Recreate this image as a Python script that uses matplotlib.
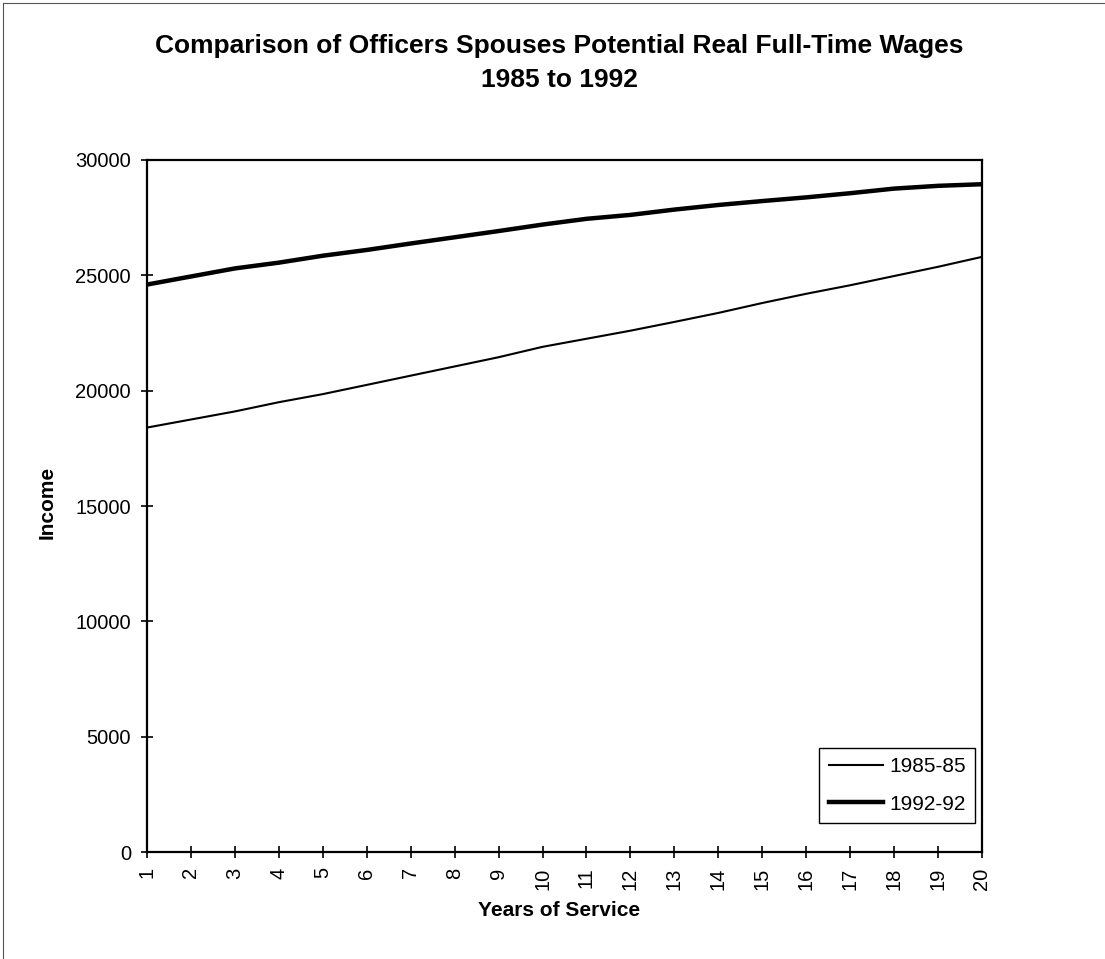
import matplotlib
matplotlib.use("Agg")
import matplotlib.pyplot as plt
from matplotlib.lines import Line2D

plt.rcParams["font.family"] = ["Liberation Sans", "DejaVu Sans"]

YEARS = list(range(1, 21))
WAGES_1985 = [18400, 18750, 19100, 19500, 19850, 20250, 20650, 21050, 21450, 21900,
              22250, 22600, 22980, 23370, 23800, 24200, 24570, 24970, 25370, 25800]
WAGES_1992 = [24600, 24950, 25300, 25550, 25850, 26100, 26380, 26650, 26920, 27200,
              27450, 27620, 27850, 28050, 28220, 28380, 28560, 28760, 28880, 28950]
Y_TICKS = [0, 5000, 10000, 15000, 20000, 25000, 30000]
TITLE = ["Comparison of Officers Spouses Potential Real Full-Time Wages", "1985 to 1992"]

fig = plt.figure(figsize=(11.05, 9.59), dpi=100)
# plot area: x 147..982 px, y 160..852 px
ax = fig.add_axes([147 / 1105, 1 - 852 / 959, 835 / 1105, 692 / 959])

ax.plot(YEARS, WAGES_1985, color="black", lw=1.5, label="1985-85")
ax.plot(YEARS, WAGES_1992, color="black", lw=3.2, label="1992-92")

ax.set_xlim(1, 20); ax.set_ylim(0, 30000)
ax.set_xticks(YEARS)
ax.set_xticklabels([str(y) for y in YEARS], rotation=90, fontsize=14.5)
ax.set_yticks(Y_TICKS)
ax.set_yticklabels([str(v) for v in Y_TICKS], fontsize=14.5)
ax.tick_params(axis="both", direction="inout", length=9, width=1.2, colors="black")
ax.tick_params(axis="y", pad=7)
ax.tick_params(axis="x", pad=6.5)
for s in ax.spines.values():
    s.set_linewidth(1.6)

ax.set_xlabel("Years of Service", fontsize=15, fontweight="bold")
ax.set_ylabel("Income", fontsize=15, fontweight="bold")
ax.xaxis.set_label_coords(0.494, -0.0708)
ax.yaxis.set_label_coords(-0.108, 0.505)

leg = ax.legend(loc="lower right", bbox_to_anchor=(0.9916, 0.0419), borderaxespad=0,
                fontsize=15, fancybox=False, edgecolor="black", framealpha=1,
                handlelength=2.6, handletextpad=0.3, borderpad=0.45, labelspacing=0.9)
leg.get_frame().set_linewidth(1.0)

fig.text(0.506, 1 - 53 / 959, TITLE[0], ha="center", va="baseline",
         fontsize=19, fontweight="bold")
fig.text(0.506, 1 - 87 / 959, TITLE[1], ha="center", va="baseline",
         fontsize=19, fontweight="bold")

# scanned page frame (left and top edges)
fig.add_artist(Line2D([0.003, 0.003], [0.0, 0.997], transform=fig.transFigure,
                      color="#555555", lw=0.8))
fig.add_artist(Line2D([0.003, 1.0], [0.997, 0.997], transform=fig.transFigure,
                      color="#555555", lw=0.8))

fig.savefig("out.png", dpi=100)
